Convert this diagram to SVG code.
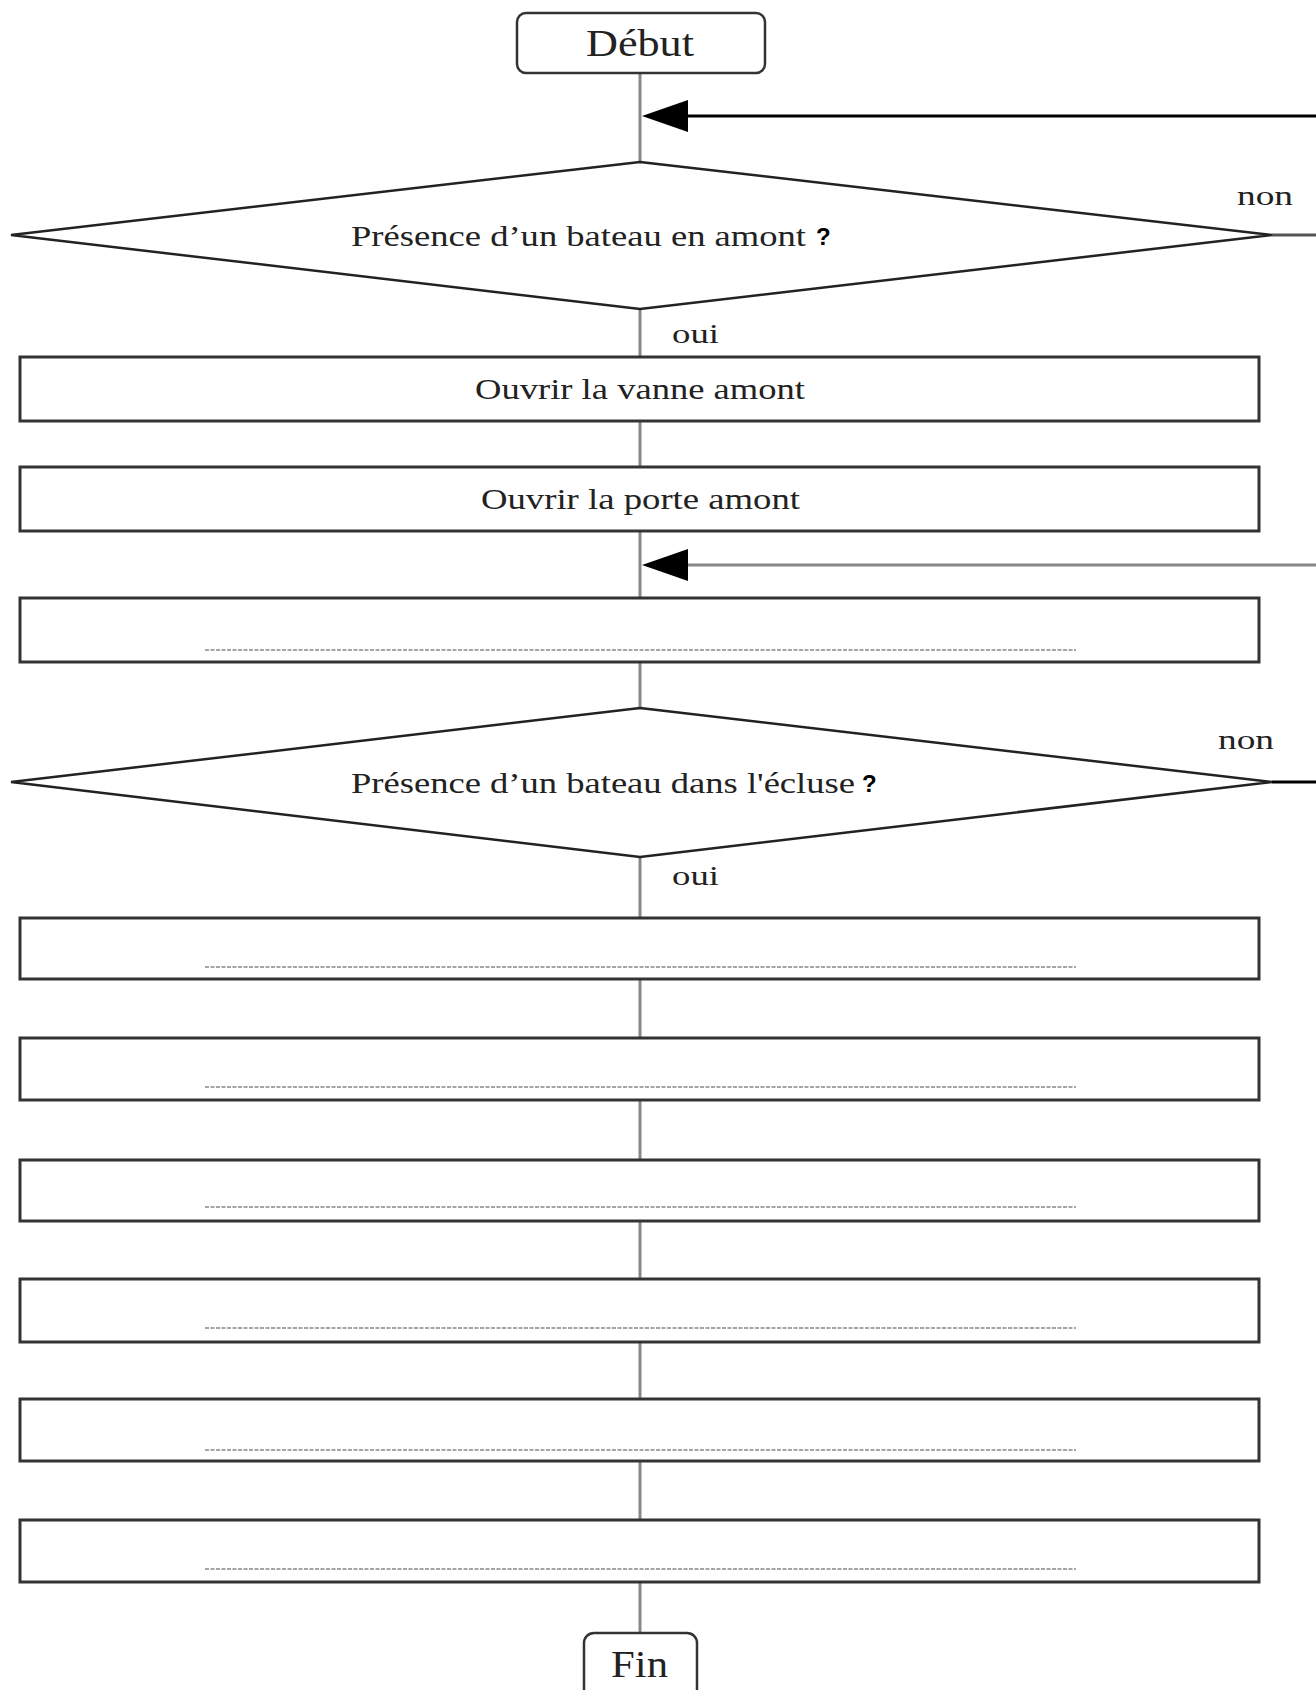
<svg xmlns="http://www.w3.org/2000/svg" width="1316" height="1690" viewBox="0 0 1316 1690">
<style>
.bg{fill:#fff}
.term{fill:#fff;stroke:#333;stroke-width:2.5}
.box{fill:#fff;stroke:#333;stroke-width:3}
.dia{fill:#fff;stroke:#222;stroke-width:2.5}
.conn{stroke:#888;stroke-width:3;fill:none}
.back{stroke:#000;stroke-width:3;fill:none}
.head{fill:#000}
.dots{stroke:#888;stroke-width:1.5;stroke-dasharray:4 1.5}
.t{font-family:"Liberation Serif","Times New Roman",serif;fill:#222}
.q{font-family:"Liberation Sans",Arial,sans-serif;font-weight:bold;fill:#000}
</style>
<rect class="bg" x="0" y="0" width="1316" height="1690"/>

<g id="connectors">
<line class="conn" x1="640" y1="73" x2="640" y2="162"/>
<line class="back" x1="1316" y1="116" x2="686" y2="116"/>
<polygon class="head" points="642,116 688,100 688,132"/>
<line class="conn" x1="1272" y1="235" x2="1316" y2="235" style="stroke:#555"/>
<line class="conn" x1="640" y1="309" x2="640" y2="357"/>
<line class="conn" x1="640" y1="421" x2="640" y2="467"/>
<line class="conn" x1="640" y1="531" x2="640" y2="598"/>
<line class="back" x1="1316" y1="565" x2="686" y2="565" style="stroke:#888"/>
<polygon class="head" points="642,565 688,549 688,581"/>
<line class="conn" x1="640" y1="662" x2="640" y2="708"/>
<line class="back" x1="1272" y1="782" x2="1316" y2="782"/>
<line class="conn" x1="640" y1="857" x2="640" y2="918"/>
<line class="conn" x1="640" y1="979" x2="640" y2="1038"/>
<line class="conn" x1="640" y1="1100" x2="640" y2="1160"/>
<line class="conn" x1="640" y1="1221" x2="640" y2="1279"/>
<line class="conn" x1="640" y1="1342" x2="640" y2="1399"/>
<line class="conn" x1="640" y1="1461" x2="640" y2="1520"/>
<line class="conn" x1="640" y1="1582" x2="640" y2="1632"/>
<text class="t" x="672" y="343" font-size="28" textLength="47" lengthAdjust="spacingAndGlyphs">oui</text>
<text class="t" x="1237" y="205" font-size="28" textLength="56" lengthAdjust="spacingAndGlyphs">non</text>
<text class="t" x="672" y="885" font-size="28" textLength="47" lengthAdjust="spacingAndGlyphs">oui</text>
<text class="t" x="1218" y="749" font-size="28" textLength="56" lengthAdjust="spacingAndGlyphs">non</text>
</g>

<g id="debut">
<rect class="term" x="517" y="13" width="248" height="60" rx="9"/>
<text class="t" x="586" y="56" font-size="38" textLength="108" lengthAdjust="spacingAndGlyphs">Début</text>
</g>

<g id="decision1">
<polygon class="dia" points="640,162 1272,235 640,309 11,235"/>
<text class="t" x="351" y="246" font-size="30" textLength="455" lengthAdjust="spacingAndGlyphs">Présence d’un bateau en amont</text>
<text class="q" x="816" y="245" font-size="24">?</text>
</g>

<g id="step1">
<rect class="box" x="20" y="357" width="1239" height="64"/>
<text class="t" x="475" y="399" font-size="30" textLength="330" lengthAdjust="spacingAndGlyphs">Ouvrir la vanne amont</text>
</g>

<g id="step2">
<rect class="box" x="20" y="467" width="1239" height="64"/>
<text class="t" x="481" y="509" font-size="30" textLength="319" lengthAdjust="spacingAndGlyphs">Ouvrir la porte amont</text>
</g>

<g id="step3">
<rect class="box" x="20" y="598" width="1239" height="64"/>
<line class="dots" x1="205" y1="650" x2="1076" y2="650"/>
</g>

<g id="decision2">
<polygon class="dia" points="640,708 1272,782 640,857 11,782"/>
<text class="t" x="351" y="793" font-size="30" textLength="504" lengthAdjust="spacingAndGlyphs">Présence d’un bateau dans l'écluse</text>
<text class="q" x="862" y="792" font-size="24">?</text>
</g>

<g id="step4">
<rect class="box" x="20" y="918" width="1239" height="61"/>
<line class="dots" x1="205" y1="967" x2="1076" y2="967"/>
</g>
<g id="step5">
<rect class="box" x="20" y="1038" width="1239" height="62"/>
<line class="dots" x1="205" y1="1087" x2="1076" y2="1087"/>
</g>
<g id="step6">
<rect class="box" x="20" y="1160" width="1239" height="61"/>
<line class="dots" x1="205" y1="1207" x2="1076" y2="1207"/>
</g>
<g id="step7">
<rect class="box" x="20" y="1279" width="1239" height="63"/>
<line class="dots" x1="205" y1="1328" x2="1076" y2="1328"/>
</g>
<g id="step8">
<rect class="box" x="20" y="1399" width="1239" height="62"/>
<line class="dots" x1="205" y1="1450" x2="1076" y2="1450"/>
</g>
<g id="step9">
<rect class="box" x="20" y="1520" width="1239" height="62"/>
<line class="dots" x1="205" y1="1569" x2="1076" y2="1569"/>
</g>

<g id="fin">
<rect class="term" x="584" y="1633" width="113" height="70" rx="10"/>
<text class="t" x="611" y="1677" font-size="38" textLength="57" lengthAdjust="spacingAndGlyphs">Fin</text>
</g>
</svg>
